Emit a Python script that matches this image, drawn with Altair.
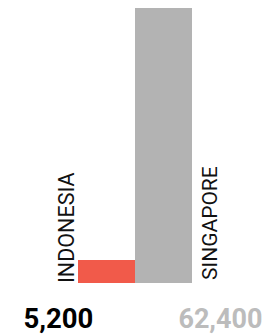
import altair as alt
import pandas as pd

countries = ["INDONESIA", "SINGAPORE"]
values = [5200, 62400]
value_labels = ["5,200", "62,400"]
bar_colors = ["#f15a4a", "#b3b3b3"]
value_colors = ["#000000", "#bcbcbc"]

df = pd.DataFrame({
    "country": countries,
    "value": values,
    "label": value_labels,
})

FONT = "Roboto"

x = alt.X("country:N", scale=alt.Scale(domain=countries, range=[70, 184],
                                        paddingInner=0, paddingOuter=0), axis=None)
y = alt.Y("value:Q", scale=alt.Scale(domain=[0, 62400]), axis=None)
color = alt.Color("country:N", scale=alt.Scale(domain=countries, range=bar_colors), legend=None)

bars = alt.Chart(df).mark_bar(size=57).encode(x=x, y=y, color=color)

ind_name = alt.Chart(df).transform_filter(alt.datum.country == "INDONESIA").mark_text(
    angle=270, align="left", baseline="alphabetic", font=FONT, fontSize=21.5,
    color="#111111", dx=0, dy=-33
).encode(x=x, y=alt.value(275), text="country:N")

sgp_name = alt.Chart(df).transform_filter(alt.datum.country == "SINGAPORE").mark_text(
    angle=270, align="left", baseline="alphabetic", font=FONT, fontSize=21,
    color="#111111", dx=3, dy=53
).encode(x=x, y=alt.value(275), text="country:N")

ind_val = alt.Chart(df).transform_filter(alt.datum.country == "INDONESIA").mark_text(
    align="left", baseline="alphabetic", font=FONT, fontSize=27.5, fontWeight="bold",
    color=value_colors[0], dx=-83
).encode(x=x, y=alt.value(320), text="label:N")

sgp_val = alt.Chart(df).transform_filter(alt.datum.country == "SINGAPORE").mark_text(
    align="right", baseline="alphabetic", font=FONT, fontSize=27, fontWeight="bold",
    color=value_colors[1], dx=99
).encode(x=x, y=alt.value(320), text="label:N")

chart = alt.layer(bars, ind_name, sgp_name, ind_val, sgp_val).properties(
    width=256, height=275,
    autosize=alt.AutoSizeParams(type="none"),
    padding={"top": 0, "left": 0, "right": 0, "bottom": 51},
).configure_view(stroke=None)

chart.save("out.html", embed_options={"renderer": "svg", "actions": False})
